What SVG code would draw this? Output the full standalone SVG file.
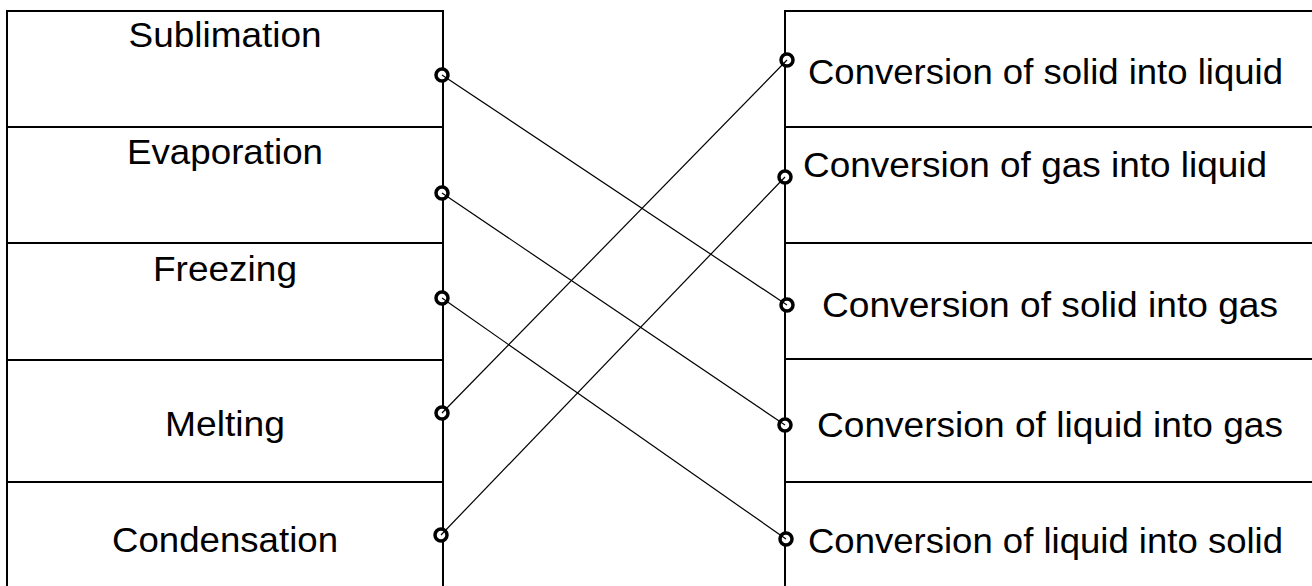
<svg xmlns="http://www.w3.org/2000/svg" width="1312" height="586" viewBox="0 0 1312 586">
  <style>
    .cell { fill: #ffffff; stroke: #000000; stroke-width: 2; }
    .label { font-family: "Liberation Sans", Arial, sans-serif; font-size: 35px; fill: #000000; }
    .mid { text-anchor: middle; }
    .dot { fill: #ffffff; stroke: #000000; stroke-width: 3.5; }
    .link { stroke: #000000; stroke-width: 1.2; fill: none; }
  </style>
  <rect width="1312" height="586" fill="#ffffff"/>

  <!-- left column: processes -->
  <g id="sublimation">
    <rect class="cell" x="7" y="11" width="436" height="116"/>
    <text class="label mid" x="225" y="47" textLength="193" lengthAdjust="spacingAndGlyphs">Sublimation</text>
  </g>
  <g id="evaporation">
    <rect class="cell" x="7" y="127" width="436" height="116"/>
    <text class="label mid" x="225" y="164" textLength="196" lengthAdjust="spacingAndGlyphs">Evaporation</text>
  </g>
  <g id="freezing">
    <rect class="cell" x="7" y="243" width="436" height="117"/>
    <text class="label mid" x="225" y="281" textLength="144" lengthAdjust="spacingAndGlyphs">Freezing</text>
  </g>
  <g id="melting">
    <rect class="cell" x="7" y="360" width="436" height="122"/>
    <text class="label mid" x="225" y="436" textLength="120" lengthAdjust="spacingAndGlyphs">Melting</text>
  </g>
  <g id="condensation">
    <rect class="cell" x="7" y="482" width="436" height="120"/>
    <text class="label mid" x="225" y="552" textLength="226" lengthAdjust="spacingAndGlyphs">Condensation</text>
  </g>

  <!-- right column: descriptions -->
  <g id="solid-to-liquid">
    <rect class="cell" x="785" y="11" width="540" height="116"/>
    <text class="label" x="808" y="84" textLength="475" lengthAdjust="spacingAndGlyphs">Conversion of solid into liquid</text>
  </g>
  <g id="gas-to-liquid">
    <rect class="cell" x="785" y="127" width="540" height="116"/>
    <text class="label" x="803" y="177" textLength="464" lengthAdjust="spacingAndGlyphs">Conversion of gas into liquid</text>
  </g>
  <g id="solid-to-gas">
    <rect class="cell" x="785" y="243" width="540" height="116"/>
    <text class="label" x="822" y="317" textLength="456" lengthAdjust="spacingAndGlyphs">Conversion of solid into gas</text>
  </g>
  <g id="liquid-to-gas">
    <rect class="cell" x="785" y="359" width="540" height="123"/>
    <text class="label" x="817" y="437" textLength="466" lengthAdjust="spacingAndGlyphs">Conversion of liquid into gas</text>
  </g>
  <g id="liquid-to-solid">
    <rect class="cell" x="785" y="482" width="540" height="120"/>
    <text class="label" x="808" y="553" textLength="475" lengthAdjust="spacingAndGlyphs">Conversion of liquid into solid</text>
  </g>

  <!-- terminals on the facing edges -->
  <g id="terminals">
    <circle class="dot" cx="442" cy="75" r="6"/>
    <circle class="dot" cx="442" cy="193" r="6"/>
    <circle class="dot" cx="442" cy="298" r="6"/>
    <circle class="dot" cx="442" cy="413" r="6"/>
    <circle class="dot" cx="441" cy="535" r="6"/>
    <circle class="dot" cx="787" cy="60" r="6"/>
    <circle class="dot" cx="785" cy="177" r="6"/>
    <circle class="dot" cx="787" cy="305" r="6"/>
    <circle class="dot" cx="785" cy="425" r="6"/>
    <circle class="dot" cx="786" cy="539" r="6"/>
  </g>

  <!-- matching lines -->
  <g id="connectors">
    <line class="link" x1="442" y1="75" x2="787" y2="305"/>
    <line class="link" x1="442" y1="193" x2="785" y2="425"/>
    <line class="link" x1="442" y1="298" x2="786" y2="539"/>
    <line class="link" x1="442" y1="413" x2="787" y2="60"/>
    <line class="link" x1="441" y1="535" x2="785" y2="177"/>
  </g>
</svg>
